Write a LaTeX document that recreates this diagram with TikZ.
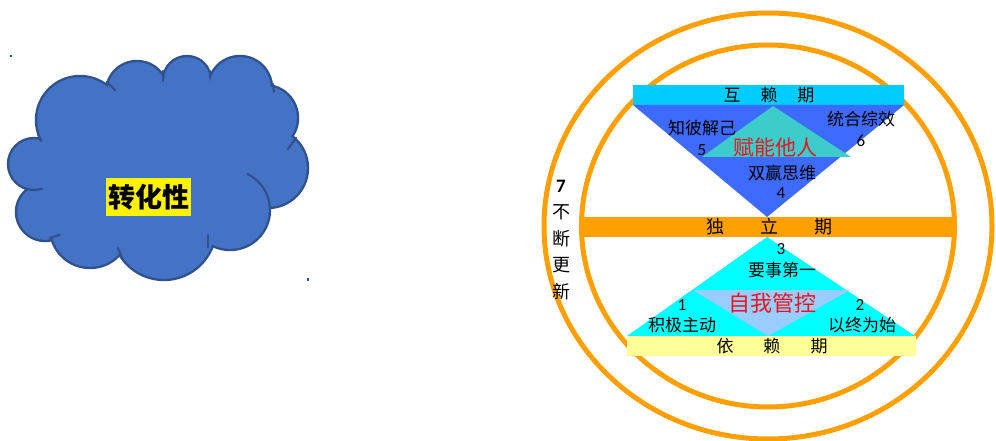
\documentclass[tikz,border=0pt]{standalone}
\usepackage{fontspec}
\newfontfamily\cjk{Noto Sans CJK SC}
\newfontfamily\digits{Carlito}
\definecolor{orng}{RGB}{255,160,0}
\definecolor{barcyan}{RGB}{0,204,255}
\definecolor{royal}{RGB}{61,107,255}
\definecolor{tealc}{RGB}{60,204,204}
\definecolor{aquac}{RGB}{0,255,255}
\definecolor{lblue}{RGB}{153,204,255}
\definecolor{lyellow}{RGB}{255,255,153}
\definecolor{redt}{RGB}{235,20,30}
\definecolor{cloudfill}{RGB}{68,114,196}
\definecolor{cloudline}{RGB}{47,82,143}
\tikzset{
  ring/.style={draw=orng, line width=5pt},
  lbl/.style={inner sep=0pt, font=\cjk\fontsize{17}{17}\selectfont, text=black},
  bartxt/.style={inner sep=0pt, font=\cjk\fontsize{17}{17}\selectfont, text=black},
  bigred/.style={inner sep=0pt, font=\cjk\fontsize{21}{21}\selectfont, text=redt},
  num/.style={inner sep=0pt, font=\digits\fontsize{17}{17}\selectfont, text=black},
  crease/.style={draw=cloudline, line width=2.2pt, line cap=round},
}
\begin{document}
\begin{tikzpicture}[x=1pt,y=1pt]
\useasboundingbox (0,0) rectangle (996,-441);
% ---------- cloud ----------
\foreach \cx/\cy/\rr in {34/164/26, 45/212/29, 90/228/40, 164/228/52, 230/210/40, 268/168/40, 265/118/33, 240/88/32, 187/80/24, 137/92/31, 80/120/44}
  \fill[cloudline] (\cx,-\cy) circle[radius=\rr+1.2];
\fill[cloudfill] (34,-164) -- (45,-212) -- (90,-228) -- (164,-228) -- (230,-210) -- (268,-168) -- (265,-118) -- (240,-88) -- (187,-80) -- (137,-92) -- (80,-120) -- cycle;
\foreach \cx/\cy/\rr in {34/164/26, 45/212/29, 90/228/40, 164/228/52, 230/210/40, 268/168/40, 265/118/33, 240/88/32, 187/80/24, 137/92/31, 80/120/44}
  \fill[cloudfill] (\cx,-\cy) circle[radius=\rr-1.2];
\draw[crease] (38,-134) -- (41,-141);
\draw[crease] (107,-82) -- (115,-90);
\draw[crease] (163,-71) -- (163,-81);
\draw[crease] (210,-71) -- (210,-78);
\draw[crease] (273,-84) -- (274,-92);
\draw[crease] (296,-138) -- (288,-149);
\draw[crease] (230,-210) ++(64:40) arc[start angle=64, end angle=4, radius=40];
\draw[crease] (208,-235) -- (208,-247);
\draw[crease] (118,-248) -- (122,-258);
\draw[crease] (50,-238) -- (60,-235);
\draw[crease] (34,-164) ++(245:26) arc[start angle=245, end angle=288, radius=26];
\node[fill=yellow, inner sep=0pt, minimum width=85pt, minimum height=38pt,
      font=\cjk\bfseries\fontsize{27}{27}\selectfont] (zhuan) at (148.5,-197) {转化性};
\fill[cloudline] (10.3,-54.8) rectangle (11.8,-57.3);
\fill[cloudline] (307,-278) rectangle (308.5,-280.5);
% ---------- rings ----------
\draw[ring] (768,-226) ellipse [x radius=224pt, y radius=213pt];
\draw[ring] (768,-226) ellipse [x radius=186.5pt, y radius=181pt];
% ---------- upper part ----------
\fill[barcyan] (633,-85) rectangle (904,-105.5);
\fill[royal] (633,-105) -- (904,-105) -- (767,-217) -- cycle;
\fill[tealc] (773,-106) -- (851,-157) -- (702,-157) -- cycle;
% ---------- middle bar ----------
\fill[orng] (582,-217) rectangle (955,-237);
% ---------- lower part ----------
\fill[aquac] (767,-237) -- (915,-336) -- (627,-336) -- cycle;
\fill[lblue] (693,-290) -- (850,-290) -- (768,-336) -- cycle;
\fill[lyellow] (627,-336) rectangle (916,-356);
% ---------- texts ----------
\node[bartxt] (hulai) at (769,-95) {互\hspace{20pt}赖\hspace{20pt}期};
\node[bartxt, font=\cjk\fontsize{18}{18}\selectfont] (duli) at (769,-227) {独\hspace{36pt}立\hspace{36pt}期};
\node[bartxt] (yilai) at (772,-346) {依\hspace{30pt}赖\hspace{30pt}期};
\node[lbl] (zhibi) at (702,-128) {知彼解己};
\node[num] (n5) at (702,-150) {5};
\node[lbl] (tonghe) at (861,-119) {统合综效};
\node[num] (n6) at (861,-141) {6};
\node[bigred] (funeng) at (775,-147) {赋能他人};
\node[lbl] (shuang) at (782,-173) {双赢思维};
\node[num] (n4) at (781,-193) {4};
\node[num] (n3) at (781,-249) {3};
\node[lbl] (yaoshi) at (782,-270) {要事第一};
\node[bigred, font=\cjk\fontsize{22}{22}\selectfont] (ziwo) at (772,-303) {自我管控};
\node[num] (n1) at (682,-305) {1};
\node[num] (n2) at (860,-305) {2};
\node[lbl] (jiji) at (682,-325) {积极主动};
\node[lbl] (yizhong) at (862,-325) {以终为始};
\node[inner sep=0pt, align=center, font=\cjk\fontsize{18}{26.5}\selectfont] (buduan) at (561,-240)
  {{\digits\bfseries\fontsize{19}{19}\selectfont 7}\\不\\断\\更\\新};
\end{tikzpicture}
\end{document}
